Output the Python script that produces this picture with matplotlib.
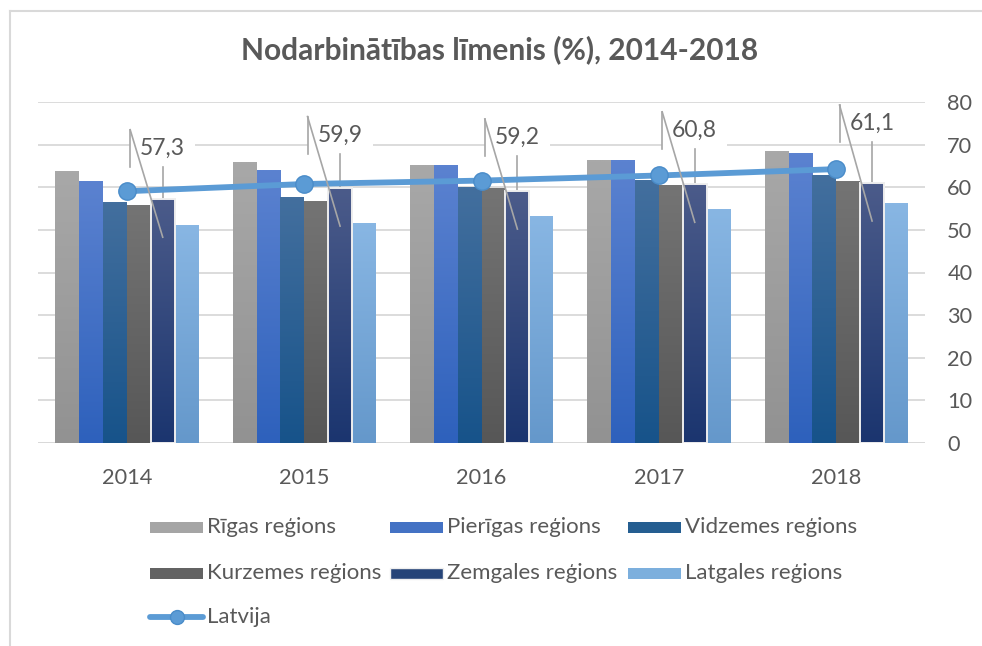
import numpy as np
import matplotlib
matplotlib.use("Agg")
import matplotlib.pyplot as plt
from matplotlib.patches import Rectangle
from matplotlib.lines import Line2D
from matplotlib.colors import to_rgb

# ---------------- data ----------------
years = ["2014", "2015", "2016", "2017", "2018"]
regions = ["Rīgas reģions", "Pierīgas reģions", "Vidzemes reģions",
           "Kurzemes reģions", "Zemgales reģions", "Latgales reģions"]
riga = [63.9, 66.0, 65.3, 66.5, 68.6]
pieriga = [61.6, 64.2, 65.3, 66.5, 68.0]
vidzeme = [56.6, 57.8, 60.0, 61.8, 63.0]
kurzeme = [55.9, 56.9, 59.8, 60.6, 61.6]
zemgale = [57.3, 59.9, 59.2, 60.8, 61.1]
latgale = [51.2, 51.7, 53.3, 55.0, 56.4]
latvija = [59.1, 60.8, 61.6, 62.8, 64.3]
latvija_name = "Latvija"
yticks = [0, 10, 20, 30, 40, 50, 60, 70, 80]
title = "Nodarbinātības līmenis (%), 2014-2018"

# ---------------- style ----------------
series = [riga, pieriga, vidzeme, kurzeme, zemgale, latgale]
grad_top = ["#a8a8a8", "#5b82d0", "#436f9e", "#747474", "#4b5b8a", "#88b6e3"]
grad_bot = ["#929292", "#2e61bc", "#17538a", "#575757", "#1b356f", "#6598cb"]
solid = ["#a5a5a5", "#4472c4", "#255e91", "#636363", "#264478", "#7cafdd"]
line_color = "#5b9bd5"
text_color = "#595959"
grid_color = "#d9d9d9"
label_offsets = [11.9, 12.4, 12.5, 12.6, 13.9]  # label box centre above value
FS_TICK = 15.7
FS_LEG = 16.0
FS_LAB = 16.5
FS_TITLE = 21.5

W, H = 982, 646
plt.rcParams['font.family'] = ['Lato', 'DejaVu Sans']
fig = plt.figure(figsize=(W / 100, H / 100), dpi=100)

def fx(x):
    return x / W

def fy(y):
    return 1 - y / H

left_px, right_px, top_px, bot_px = 38.3, 925.0, 102.3, 442.7
ax = fig.add_axes([fx(left_px), fy(bot_px), fx(right_px - left_px), (bot_px - top_px) / H])

n = len(series)
bw = 0.1344
x = np.arange(len(years))

for i, vals in enumerate(series):
    offs = (i - (n - 1) / 2) * bw
    bars = ax.bar(x + offs, vals, bw, color=solid[i], edgecolor="none", linewidth=0,
                  zorder=2, label=regions[i])
    c0 = np.array(to_rgb(grad_top[i]))
    c1 = np.array(to_rgb(grad_bot[i]))
    t = np.linspace(0, 1, 64)[:, None]
    img = (c0[None, :] * (1 - t) + c1[None, :] * t)[:, None, :]
    for b in bars:
        x0 = b.get_x()
        h = b.get_height()
        im = ax.imshow(img, extent=(x0, x0 + b.get_width(), 0, h), origin="upper",
                       aspect="auto", zorder=2.1, interpolation="bilinear")
        im.set_clip_path(b)
    if i == 4:
        for b in bars:
            ax.add_patch(Rectangle((b.get_x(), 0), b.get_width(), b.get_height(),
                                   facecolor="none", edgecolor="#eeeeee", lw=1.4, zorder=2.2))

ax.plot(x, latvija, color=line_color, lw=4.2, marker="o", markersize=12.5,
        markerfacecolor=line_color, markeredgecolor="#4a8cc9", markeredgewidth=1,
        zorder=4, solid_capstyle="round")

# data labels for Zemgale with Excel-like leader lines
zoff = (4 - (n - 1) / 2) * bw
box_w = 0.367
box_hh = 4.35
for i, v in enumerate(zemgale):
    cx = x[i] + zoff
    cy = v + label_offsets[i]
    bl = cx - box_w / 2
    ax.add_patch(Rectangle((bl, cy - box_hh), box_w, 2 * box_hh, facecolor="white",
                           edgecolor="none", zorder=1.5))
    ax.plot([bl, bl], [cy - box_hh, cy + box_hh], color="#a6a6a6", lw=1.2, zorder=1.6)
    ax.plot([bl, cx], [cy + box_hh, v - 9.0], color="#a6a6a6", lw=1.2, zorder=5)
    ax.plot([cx, cx], [cy - box_hh, v], color="#a6a6a6", lw=1.2, zorder=1.6)
    ax.text(cx, cy, f"{v:.1f}".replace(".", ","), ha="center", va="center",
            fontsize=FS_LAB, color=text_color, zorder=6)

ax.set_xlim(-0.5, len(years) - 0.5)
ax.set_ylim(0, 80)
ax.set_yticks(yticks)
ax.yaxis.tick_right()
ax.tick_params(axis="y", length=0, pad=16, labelsize=FS_TICK, labelcolor=text_color)
ax.set_xticks(x)
ax.set_xticklabels(years)
ax.tick_params(axis="x", length=0, pad=18, labelsize=FS_TICK, labelcolor=text_color)
for s in ax.spines.values():
    s.set_visible(False)
ax.grid(axis="y", color=grid_color, lw=1.3, zorder=0)
ax.set_axisbelow(True)
ax.axhline(0, color=grid_color, lw=1.3, zorder=1)
for lab in ax.get_yticklabels():
    lab.set_horizontalalignment("left")

fig.text(fx(500), fy(50), title, ha="center", va="center", fontsize=FS_TITLE,
         fontweight="bold", color=text_color)

# legend (Excel-like layout, 3 columns)
col_x = [150, 390, 628]
row_y = [527, 573, 617]
patch_w, patch_h = 53, 11
order = [0, 1, 2, 3, 4, 5]
for k, idx in enumerate(order):
    r, c = divmod(k, 3)
    px, py = col_x[c], row_y[r]
    fig.add_artist(Rectangle((fx(px), fy(py + patch_h / 2)), fx(patch_w), patch_h / H,
                             transform=fig.transFigure, facecolor=solid[idx],
                             edgecolor="#eeeeee" if idx == 4 else "none", lw=1))
    fig.text(fx(px + patch_w + 4), fy(py), regions[idx], ha="left", va="center",
             fontsize=FS_LEG, color=text_color)
py = row_y[2]
fig.add_artist(Line2D([fx(col_x[0]), fx(col_x[0] + patch_w)], [fy(py), fy(py)],
                      transform=fig.transFigure, color=line_color, lw=4.2,
                      marker=None, solid_capstyle="round"))
fig.add_artist(Line2D([fx(col_x[0] + patch_w / 2)], [fy(py)], transform=fig.transFigure,
                      color=line_color, marker="o", markersize=10,
                      markeredgecolor="#4a8cc9", lw=0))
fig.text(fx(col_x[0] + patch_w + 4), fy(py), latvija_name, ha="left", va="center",
         fontsize=FS_LEG, color=text_color)

# chart border (top and left visible)
fig.add_artist(Line2D([fx(9.5), 1], [fy(10.5), fy(10.5)], transform=fig.transFigure,
                      color="#d9d9d9", lw=1.5))
fig.add_artist(Line2D([fx(9.5), fx(9.5)], [fy(10.5), 0], transform=fig.transFigure,
                      color="#d9d9d9", lw=1.5))

fig.savefig("out.png", dpi=100)
